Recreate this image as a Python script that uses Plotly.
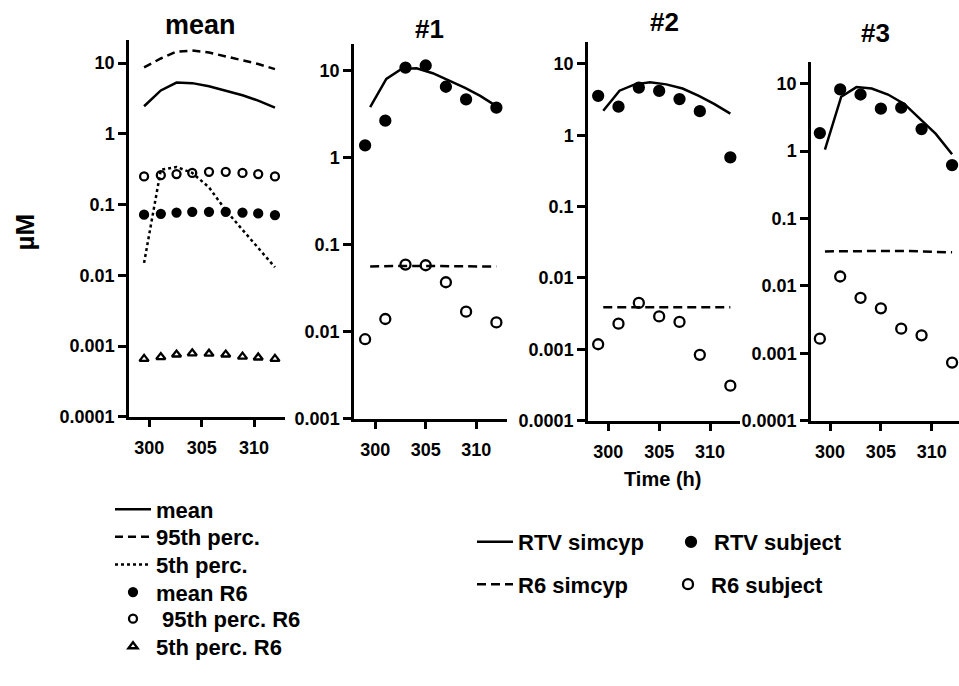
import plotly.graph_objects as go

# ---------------- data ----------------
sim_time = [299.5, 301.1, 302.6, 304.1, 305.7, 307.3, 308.9, 310.4, 312.0]
obs_time = [299, 301, 303, 305, 307, 309, 312]

# mean panel (simulated)
mean_rtv = [2.45, 4.1, 5.3, 5.2, 4.7, 4.1, 3.5, 2.95, 2.35]
p95_rtv = [8.7, 11.6, 14.5, 15.0, 14.1, 12.4, 10.8, 9.7, 8.2]
p5_rtv = [0.015, 0.31, 0.34, 0.28, 0.175, 0.083, 0.044, 0.024, 0.013]
mean_r6 = [0.072, 0.074, 0.077, 0.079, 0.079, 0.079, 0.077, 0.075, 0.071]
p95_r6 = [0.25, 0.26, 0.27, 0.28, 0.29, 0.29, 0.28, 0.27, 0.25]
p5_r6 = [0.00066, 0.00070, 0.00076, 0.00079, 0.00078, 0.00076, 0.00071, 0.00069, 0.00066]

# subject #1
s1_rtv_sim = [3.8, 8.0, 10.4, 10.6, 9.3, 7.6, 6.3, 5.1, 3.9]
s1_r6_sim = [0.056, 0.057, 0.057, 0.057, 0.057, 0.057, 0.057, 0.057, 0.056]
s1_rtv_obs = [1.38, 2.65, 10.8, 11.4, 6.5, 4.66, 3.75]
s1_r6_obs = [0.0082, 0.014, 0.059, 0.058, 0.037, 0.017, 0.0128]

# subject #2
s2_rtv_sim = [2.2, 4.2, 5.15, 5.5, 5.15, 4.5, 3.56, 2.75, 2.0]
s2_r6_sim = [0.0039, 0.0039, 0.0039, 0.0039, 0.0039, 0.0039, 0.0039, 0.0039, 0.0039]
s2_rtv_obs = [3.56, 2.51, 4.64, 4.17, 3.2, 2.17, 0.49]
s2_r6_obs = [0.00118, 0.00229, 0.00447, 0.00289, 0.00242, 0.00084, 0.00031]

# subject #3
s3_rtv_sim = [1.05, 6.4, 8.9, 8.45, 6.9, 5.0, 2.95, 1.8, 0.9]
s3_r6_sim = [0.0325, 0.0328, 0.033, 0.033, 0.033, 0.033, 0.0325, 0.032, 0.0315]
s3_rtv_obs = [1.85, 8.2, 6.9, 4.26, 4.4, 2.12, 0.62]
s3_r6_obs = [0.00165, 0.0138, 0.00665, 0.00466, 0.00232, 0.00185, 0.00073]

panel_titles = ["mean", "#1", "#2", "#3"]
x_ticks = [300, 305, 310]
y_ticks = [0.0001, 0.001, 0.01, 0.1, 1, 10]
y_tick_text = ["0.0001", "0.001", "0.01", "0.1", "1", "10"]

# ---------------- layout helpers ----------------
W, H = 959, 686
FONT = "Liberation Sans, Arial, sans-serif"


def px_x(p):
    return p / W


def px_y(p):
    return 1 - p / H


BLACK = "black"
LW = 2.5

fig = go.Figure()


def line(x, y, name, xa, ya, dash="solid", legend="legend", show=False):
    fig.add_trace(go.Scatter(
        x=x, y=y, mode="lines", name=name, xaxis=xa, yaxis=ya,
        line=dict(color=BLACK, width=LW, dash=dash),
        showlegend=show, legend=legend))


def pts(x, y, name, xa, ya, symbol, size, legend="legend", show=False):
    fig.add_trace(go.Scatter(
        x=x, y=y, mode="markers", name=name, xaxis=xa, yaxis=ya,
        marker=dict(symbol=symbol, size=size, color=BLACK,
                    line=dict(color=BLACK, width=2.3)),
        showlegend=show, legend=legend))


# mean panel (each legend entry in its own legend box for exact placement)
line(sim_time, mean_rtv, "mean", "x", "y", legend="legend", show=True)
line(sim_time, p95_rtv, "95th perc.", "x", "y", dash="8px,5px", legend="legend6", show=True)
line(sim_time, p5_rtv, "5th perc.", "x", "y", dash="3px,3px", legend="legend7", show=True)
pts(sim_time, mean_r6, "mean R6", "x", "y", "circle", 8, legend="legend8", show=True)
pts(sim_time, p95_r6, " 95th perc. R6", "x", "y", "circle-open", 8, legend="legend9", show=True)
pts(sim_time, p5_r6, "5th perc. R6", "x", "y", "triangle-up-open", 8, legend="legend10", show=True)

# subject panels
subjects = [
    ("x2", "y2", s1_rtv_sim, s1_r6_sim, s1_rtv_obs, s1_r6_obs),
    ("x3", "y3", s2_rtv_sim, s2_r6_sim, s2_rtv_obs, s2_r6_obs),
    ("x4", "y4", s3_rtv_sim, s3_r6_sim, s3_rtv_obs, s3_r6_obs),
]
for i, (xa, ya, rs, r6s, ro, r6o) in enumerate(subjects):
    first = i == 0
    line(sim_time, rs, "RTV simcyp", xa, ya, legend="legend2", show=first)
    line(sim_time, r6s, "R6 simcyp", xa, ya, dash="9px,5px", legend="legend4", show=first)
    pts(obs_time, ro, "RTV subject", xa, ya, "circle", 10, legend="legend3", show=first)
    pts(obs_time, r6o, "R6 subject", xa, ya, "circle-open", 10, legend="legend5", show=first)

# axes geometry (pixels)
panels = [
    # x left, x right, y top, y bottom, x range, y log range
    (129, 285, 41, 423, [298.06, 312.96], [-4, 1.32]),
    (354, 507, 45, 425, [297.9, 313.05], [-3, 1.30]),
    (588, 740, 43, 427, [298.0, 312.95], [-4, 1.30]),
    (811, 959, 63, 427, [298.13, 312.68], [-4, 1.32]),
]

tickfont = dict(family=FONT, size=18, color=BLACK, weight="bold")
for i, (xl, xr, yt, yb, xr_, yr_) in enumerate(panels):
    sfx = "" if i == 0 else str(i + 1)
    fig.layout["xaxis" + sfx] = dict(
        domain=[px_x(xl), px_x(xr)], range=xr_, anchor="y" + sfx,
        tickvals=x_ticks, ticks="outside", ticklen=7, tickwidth=LW,
        tickcolor=BLACK, showline=True, linecolor=BLACK, linewidth=LW,
        showgrid=False, zeroline=False, tickfont=tickfont,
        ticklabelstandoff=6)
    fig.layout["yaxis" + sfx] = dict(
        domain=[px_y(yb), px_y(yt)], type="log", range=yr_,
        anchor="x" + sfx,
        tickvals=y_ticks, ticktext=y_tick_text, ticks="outside",
        ticklen=8, tickwidth=LW, tickcolor=BLACK, showline=True,
        linecolor=BLACK, linewidth=LW, showgrid=False, zeroline=False,
        tickfont=tickfont)

annotations = []
title_pos = [(200, 25, 27), (429, 29, 26), (664, 22, 26), (875, 33, 26)]
for t, (x, y, s) in zip(panel_titles, title_pos):
    annotations.append(dict(
        text=t, x=px_x(x), y=px_y(y), xref="paper", yref="paper",
        showarrow=False, xanchor="center", yanchor="middle",
        font=dict(family=FONT, size=s, color=BLACK, weight="bold")))
annotations.append(dict(
    text="µM", x=px_x(25), y=px_y(236), xref="paper", yref="paper",
    showarrow=False, textangle=-90, xanchor="center", yanchor="middle",
    font=dict(family=FONT, size=26, color=BLACK, weight="bold")))
annotations.append(dict(
    text="Time (h)", x=px_x(662), y=px_y(486), xref="paper", yref="paper",
    showarrow=False, xanchor="center", yanchor="middle",
    font=dict(family=FONT, size=20, color=BLACK, weight="bold")))

legfont = dict(family=FONT, size=22, color=BLACK, weight="bold")


def leg(x, y):
    return dict(x=px_x(x), y=px_y(y + 7), xref="paper", yref="paper",
                xanchor="left", yanchor="middle", bgcolor="rgba(0,0,0,0)",
                borderwidth=0, font=legfont, itemwidth=36)


left_rows = [510, 538, 566, 594, 621, 649]
left_legs = ["legend", "legend6", "legend7", "legend8", "legend9", "legend10"]
leg_layout = {name: leg(110, y) for name, y in zip(left_legs, left_rows)}
leg_layout["legend2"] = leg(472, 543)
leg_layout["legend3"] = leg(668, 543)
leg_layout["legend4"] = leg(472, 586)
leg_layout["legend5"] = leg(665, 586)

fig.update_layout(
    width=W, height=H,
    margin=dict(l=0, r=0, t=0, b=0),
    paper_bgcolor="white", plot_bgcolor="white",
    showlegend=True,
    annotations=annotations,
    **leg_layout,
)

fig.write_html(
    "out.html",
    config={"displayModeBar": False},
    post_script="document.body.style.margin='0px';document.body.style.overflow='hidden';",
)
